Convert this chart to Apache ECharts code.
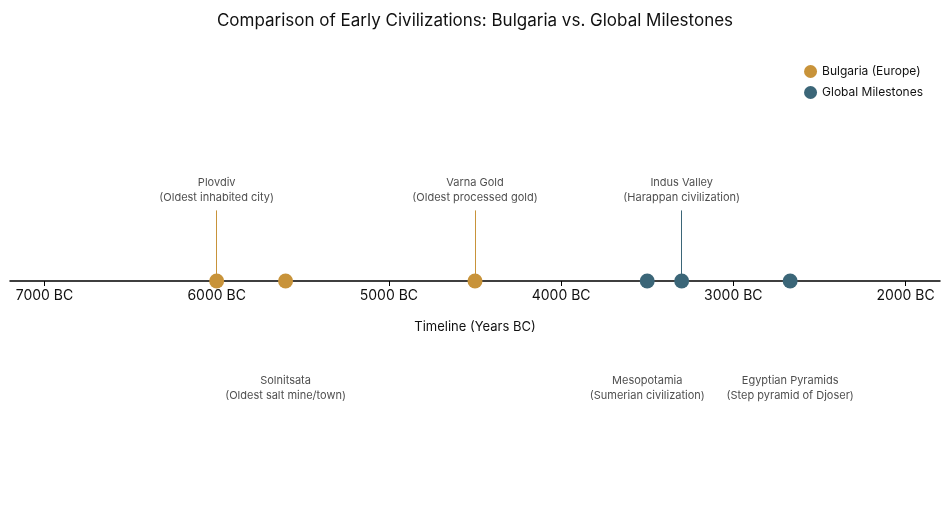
<!DOCTYPE html>
<html><head><meta charset="utf-8">
<script src="https://cdn.jsdelivr.net/npm/echarts@6/dist/echarts.min.js"></script>
<style>html,body{margin:0;background:#fff}#c{width:950px;height:523px}</style>
</head><body><div id="c"></div>
<script>
const tickValues = [-7000,-6000,-5000,-4000,-3000,-2000];
const bgYears = [-6000,-5600,-4500];
const bgNames = ['Plovdiv\n(Oldest inhabited city)','Solnitsata\n(Oldest salt mine/town)','Varna Gold\n(Oldest processed gold)'];
const bgStem = [0.39,-0.48,0.39];
const glYears = [-3500,-3300,-2670];
const glNames = ['Mesopotamia\n(Sumerian civilization)','Indus Valley\n(Harappan civilization)','Egyptian Pyramids\n(Step pyramid of Djoser)'];
const glStem = [-0.48,0.39,-0.48];
const GOLD='#c8933a', BLUE='#3b6678';
const font='Inter';
function build(name,years,labels,stems,color){
  return [
    {name:name,type:'scatter',symbolSize:15,clip:false,itemStyle:{color:color,opacity:1},z:5,
     data:years.map(y=>[y,0]),
     markLine:{symbol:'none',silent:true,label:{show:false},lineStyle:{color:color,width:1,type:'solid',opacity:1},
       data:years.map((y,i)=>[{coord:[y,0]},{coord:[y,stems[i]]}])}},
    {type:'scatter',symbolSize:0,silent:true,clip:false,
     data:years.map((y,i)=>({value:[y,stems[i]],label:{show:true,formatter:labels[i],position:stems[i]>0?'top':'bottom',distance:5,
       color:'#222',fontSize:11,fontFamily:font,lineHeight:15,align:'center'}}))}
  ];
}
const chart=echarts.init(document.getElementById('c'));
chart.setOption({
  animation:false,
  title:{text:'Comparison of Early Civilizations: Bulgaria vs. Global Milestones',left:'center',top:7,
    textStyle:{fontSize:17,fontWeight:'normal',color:'#111',fontFamily:font}},
  legend:{data:['Bulgaria (Europe)','Global Milestones'],orient:'vertical',right:22,top:60,itemGap:8,
    icon:'circle',itemWidth:13,itemHeight:13,textStyle:{fontSize:12,color:'#111',fontFamily:font}},
  grid:{left:10,right:10,top:100,bottom:242},
  xAxis:{type:'value',min:-7200,max:-1800,
    axisLine:{onZero:false,lineStyle:{color:'#000',width:1.5}},
    axisTick:{show:true,customValues:tickValues,length:5,lineStyle:{color:'#000'}},
    axisLabel:{customValues:tickValues,formatter:v=>Math.abs(v)+' BC',fontSize:14,color:'#111',fontFamily:font,margin:8},
    splitLine:{show:false},
    name:'Timeline (Years BC)',nameLocation:'middle',nameGap:40,nameTextStyle:{fontSize:13,color:'#111',fontFamily:font}},
  yAxis:{type:'value',min:0,max:1,show:false},
  series:[...build('Bulgaria (Europe)',bgYears,bgNames,bgStem,GOLD),...build('Global Milestones',glYears,glNames,glStem,BLUE)]
});
</script></body></html>
